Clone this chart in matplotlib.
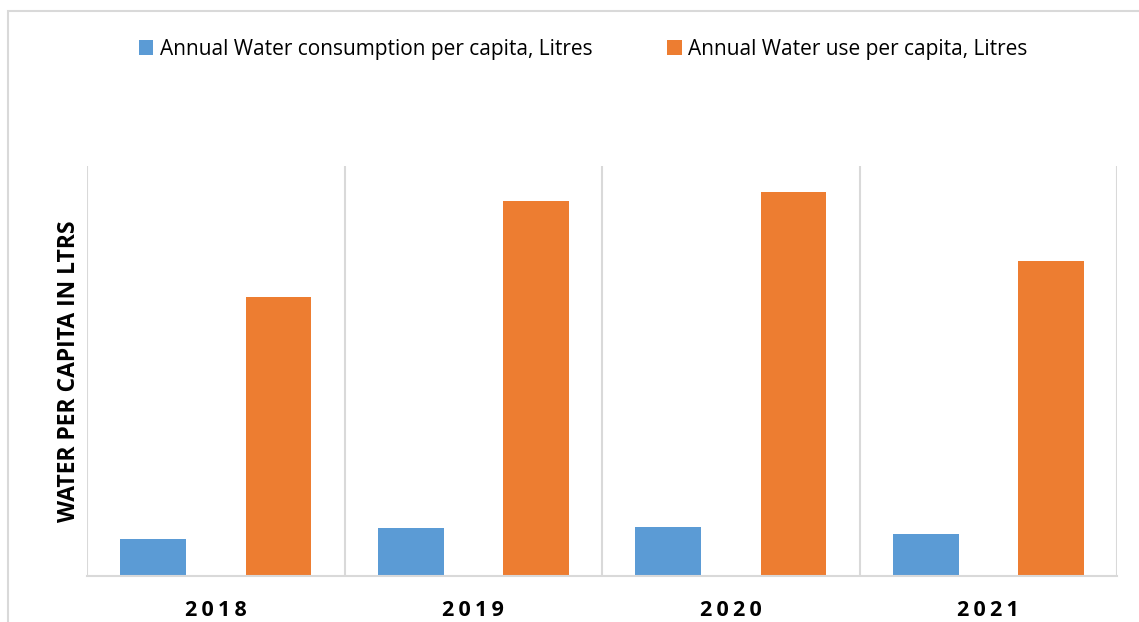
import matplotlib.pyplot as plt
from matplotlib.patches import Rectangle
import numpy as np

years = ['2018', '2019', '2020', '2021']
consumption = [36.5, 47.5, 48.5, 41.5]
water_use = [278.5, 375.5, 384, 315.5]

label_consumption = 'Annual Water consumption per capita, Litres'
label_use = 'Annual Water use per capita, Litres'
ylabel = 'WATER PER CAPITA IN LTRS'

plt.rcParams['font.family'] = ['Open Sans', 'DejaVu Sans']

fig = plt.figure(figsize=(11.39, 6.22), dpi=100)
ax = fig.add_axes([0.0764, 0.0740, 0.9043, 0.6591])

x = np.arange(len(years))
w = 0.256
off = 0.2436
ax.bar(x - off, consumption, w, color='#5B9BD5', label=label_consumption)
ax.bar(x + off, water_use, w, color='#ED7D31', label=label_use)

ax.set_xlim(-0.5, len(years) - 0.5)
ax.set_ylim(0, 410)

# category separators
for b in np.arange(-0.5, len(years), 1.0):
    ax.axvline(b, color='#D9D9D9', lw=1.5, zorder=0)

for s in ['top', 'right', 'left']:
    ax.spines[s].set_visible(False)
ax.spines['bottom'].set_color('#D9D9D9')
ax.spines['bottom'].set_linewidth(1.5)

ax.set_yticks([])
ax.set_xticks(x)
spaced = ['\u2009'.join(list(y)) for y in years]
ax.set_xticklabels(spaced, fontsize=15.5, fontweight='bold', color='black')
ax.tick_params(axis='x', length=0, pad=17)

ax.set_ylabel(ylabel, fontsize=16.5, fontweight='bold', color='black', labelpad=4)

fig.legend(loc='upper center', bbox_to_anchor=(583 / 1139, 0.968), ncol=2,
           frameon=False, fontsize=15, handlelength=0.7, handleheight=0.7,
           handletextpad=0.3, columnspacing=3.6)

# outer chart border
fig.patches.append(Rectangle((8 / 1139, -0.1), 1.2, 1.1 - 11 / 622,
                             transform=fig.transFigure, fill=False,
                             edgecolor='#D9D9D9', lw=1.5))

plt.savefig('out.png', dpi=100)
